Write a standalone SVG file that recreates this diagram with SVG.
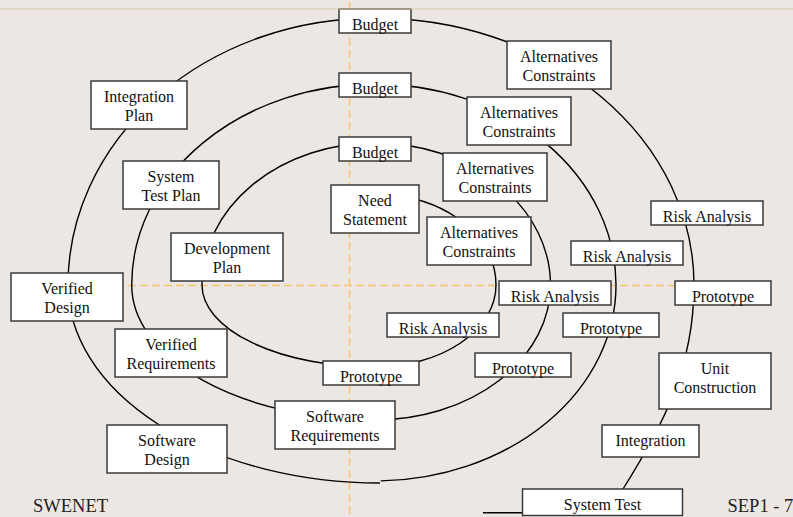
<svg xmlns="http://www.w3.org/2000/svg" width="793" height="517" viewBox="0 0 793 517">
  <style>
    .bg { fill: #ECE7E3; }
    .rule { stroke: #D8CCA6; stroke-width: 1.2; fill: none; }
    .axis { stroke: #F6C46C; stroke-width: 1.4; stroke-dasharray: 8 4; fill: none; }
    .spiral { stroke: #000000; stroke-width: 1.4; fill: none; }
    .node rect { fill: #FFFFFF; stroke: #3A3A3A; stroke-width: 1.5; }
    .node text { font-family: "Liberation Serif", "Times New Roman", serif; font-size: 16px; fill: #111111; text-anchor: middle; }
    .foot { font-family: "Liberation Serif", "Times New Roman", serif; font-size: 18.5px; fill: #222222; }
  </style>

  <rect class="bg" x="0" y="0" width="793" height="517"/>

  <!-- quadrant axes -->
  <g id="axes">
    <line class="axis" x1="349.5" y1="2" x2="349.5" y2="517"/>
    <line class="axis" x1="20" y1="285.5" x2="700" y2="285.5"/>
  </g>

  <!-- spiral connectors: quarter-ellipse arcs around (375,285) -->
  <g id="connectors">
    <path class="spiral" d="M 405 196.8
      A 121 91 0 0 1 496 285
      A 121 82 0 0 1 375 367
      A 173 82 0 0 1 202 285
      A 173 142 0 0 1 375 143
      A 175.5 142 0 0 1 550.5 285
      A 175.5 135 0 0 1 375 420
      A 243.3 135 0 0 1 131.7 285
      A 243.3 201 0 0 1 375 84
      A 241 201 0 0 1 616 285
      A 241 196 0 0 1 380.7 480.9"/>
    <path class="spiral" d="M 380 483
      A 312 198 0 0 1 68 285
      A 307 267 0 0 1 375 18
      A 319 267 0 0 1 694 285
      C 694 370 660 430 623 489
      C 610 505 575 512.5 522 512.7
      L 483 512.7"/>
  </g>

  <!-- nodes -->
  <g id="budget-outer" class="node"><rect x="339" y="9" width="72" height="24"/><text x="375" y="29.8">Budget</text></g>
  <g id="budget-mid" class="node"><rect x="339" y="73" width="72" height="24"/><text x="375" y="93.8">Budget</text></g>
  <g id="budget-inner" class="node"><rect x="339" y="137" width="72" height="24"/><text x="375" y="157.8">Budget</text></g>

  <g id="alternatives-outer" class="node"><rect x="507" y="41" width="104" height="48"/><text x="559" y="62"><tspan x="559">Alternatives</tspan><tspan x="559" dy="19.2">Constraints</tspan></text></g>
  <g id="alternatives-mid" class="node"><rect x="467" y="97" width="104" height="48"/><text x="519" y="118"><tspan x="519">Alternatives</tspan><tspan x="519" dy="19.2">Constraints</tspan></text></g>
  <g id="alternatives-inner" class="node"><rect x="443" y="153" width="104" height="48"/><text x="495" y="174"><tspan x="495">Alternatives</tspan><tspan x="495" dy="19.2">Constraints</tspan></text></g>
  <g id="alternatives-core" class="node"><rect x="427" y="217" width="104" height="48"/><text x="479" y="238"><tspan x="479">Alternatives</tspan><tspan x="479" dy="19.2">Constraints</tspan></text></g>

  <g id="need-statement" class="node"><rect x="331" y="185" width="88" height="48"/><text x="375" y="206"><tspan x="375">Need</tspan><tspan x="375" dy="19.2">Statement</tspan></text></g>

  <g id="integration-plan" class="node"><rect x="91" y="81" width="96" height="48"/><text x="139" y="102"><tspan x="139">Integration</tspan><tspan x="139" dy="19.2">Plan</tspan></text></g>
  <g id="system-test-plan" class="node"><rect x="123" y="161" width="96" height="48"/><text x="171" y="182"><tspan x="171">System</tspan><tspan x="171" dy="19.2">Test Plan</tspan></text></g>
  <g id="development-plan" class="node"><rect x="171" y="233" width="112" height="48"/><text x="227" y="254"><tspan x="227">Development</tspan><tspan x="227" dy="19.2">Plan</tspan></text></g>

  <g id="verified-design" class="node"><rect x="11" y="273" width="112" height="48"/><text x="67" y="294"><tspan x="67">Verified</tspan><tspan x="67" dy="19.2">Design</tspan></text></g>
  <g id="verified-requirements" class="node"><rect x="115" y="329" width="112" height="48"/><text x="171" y="350"><tspan x="171">Verified</tspan><tspan x="171" dy="19.2">Requirements</tspan></text></g>
  <g id="software-design" class="node"><rect x="107" y="425" width="120" height="48"/><text x="167" y="446"><tspan x="167">Software</tspan><tspan x="167" dy="19.2">Design</tspan></text></g>
  <g id="software-requirements" class="node"><rect x="275" y="401" width="120" height="48"/><text x="335" y="422"><tspan x="335">Software</tspan><tspan x="335" dy="19.2">Requirements</tspan></text></g>

  <g id="prototype-core" class="node"><rect x="323" y="361" width="96" height="24"/><text x="371" y="381.8">Prototype</text></g>
  <g id="risk-core" class="node"><rect x="387" y="313" width="112" height="24"/><text x="443" y="333.8">Risk Analysis</text></g>
  <g id="risk-inner" class="node"><rect x="499" y="281" width="112" height="24"/><text x="555" y="301.8">Risk Analysis</text></g>
  <g id="risk-mid" class="node"><rect x="571" y="241" width="112" height="24"/><text x="627" y="261.8">Risk Analysis</text></g>
  <g id="risk-outer" class="node"><rect x="651" y="201" width="112" height="24"/><text x="707" y="221.8">Risk Analysis</text></g>

  <g id="prototype-inner" class="node"><rect x="475" y="353" width="96" height="24"/><text x="523" y="373.8">Prototype</text></g>
  <g id="prototype-mid" class="node"><rect x="563" y="313" width="96" height="24"/><text x="611" y="333.8">Prototype</text></g>
  <g id="prototype-outer" class="node"><rect x="675" y="281" width="96" height="24"/><text x="723" y="301.8">Prototype</text></g>

  <g id="unit-construction" class="node"><rect x="659" y="353" width="112" height="56"/><text x="715" y="374"><tspan x="715">Unit</tspan><tspan x="715" dy="19.2">Construction</tspan></text></g>
  <g id="integration" class="node"><rect x="602" y="425" width="97" height="32"/><text x="650.5" y="446">Integration</text></g>
  <g id="system-test" class="node"><rect x="522.5" y="489" width="160" height="26.5"/><text x="602.5" y="509.8">System Test</text></g>

  <!-- header rule -->
  <line class="rule" x1="0" y1="9" x2="793" y2="9"/>

  <!-- footer -->
  <text class="foot" x="33" y="512">SWENET</text>
  <text class="foot" x="727.5" y="511.5" font-size="18">SEP1 - 7</text>
</svg>
